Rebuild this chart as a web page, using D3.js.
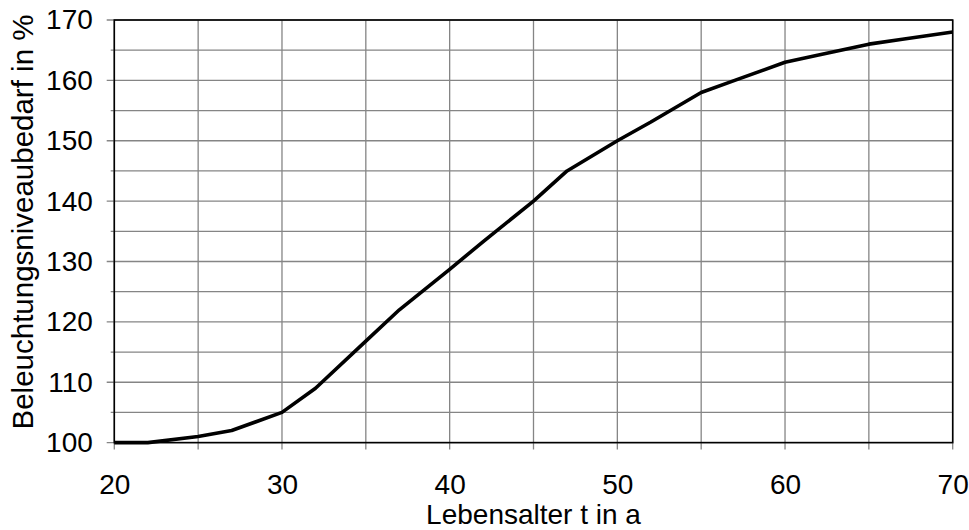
<!DOCTYPE html>
<html>
<head>
<meta charset="utf-8">
<script src="https://cdn.jsdelivr.net/npm/d3@7"></script>
<style>
  html, body { margin: 0; padding: 0; background: #fff; }
  svg { display: block; }
  text { font-family: "Liberation Sans", Arial, sans-serif; fill: #000; }
</style>
</head>
<body>
<svg id="chart" width="969" height="530"></svg>
<script>
// ---- data ----
const ages = [20, 22, 25, 27, 30, 32, 35, 37, 40, 42, 45, 47, 50, 52, 55, 57, 60, 62, 65, 67, 70];
const demand = [100, 100, 101, 102, 105, 109, 116.8, 122, 128.7, 133.3, 140, 145, 150, 153.1, 158, 160, 163, 164.2, 166, 166.8, 168];
const xTickLabels = [20, 30, 40, 50, 60, 70];
const xMinorTicks = [25, 35, 45, 55, 65];
const yTickLabels = [100, 110, 120, 130, 140, 150, 160, 170];
const yMinorTicks = [105, 115, 125, 135, 145, 155, 165];
const xTitle = "Lebensalter t in a";
const yTitle = "Beleuchtungsniveaubedarf in %";

// ---- layout ----
const svg = d3.select("#chart");
const x0 = 114.3, x1 = 952.7, yTop = 20, yBot = 442.6;
const x = d3.scaleLinear().domain([20, 70]).range([x0, x1]);
const y = d3.scaleLinear().domain([100, 170]).range([yBot, yTop]);
const gridColor = "#858585";
const fontSize = 28;

// vertical grid lines (with ticks extending below the axis)
svg.append("g").selectAll("line")
  .data(xTickLabels.concat(xMinorTicks))
  .join("line")
  .attr("x1", d => x(d)).attr("x2", d => x(d))
  .attr("y1", yTop).attr("y2", yBot + 7)
  .attr("stroke", gridColor).attr("stroke-width", 1.3);

// horizontal grid lines (major ticks extend farther left)
svg.append("g").selectAll("line")
  .data(yTickLabels.map(v => ({v, major: true})).concat(yMinorTicks.map(v => ({v, major: false}))))
  .join("line")
  .attr("x1", d => d.major ? x0 - 7.6 : x0 - 3.6).attr("x2", x1)
  .attr("y1", d => y(d.v)).attr("y2", d => y(d.v))
  .attr("stroke", gridColor).attr("stroke-width", 1.3);

// plot frame
svg.append("rect")
  .attr("x", x0).attr("y", yTop)
  .attr("width", x1 - x0).attr("height", yBot - yTop)
  .attr("fill", "none").attr("stroke", "#000").attr("stroke-width", 1.6);

// data line
const line = d3.line().x((d, i) => x(ages[i])).y(d => y(d));
svg.append("path")
  .datum(demand)
  .attr("d", line)
  .attr("fill", "none")
  .attr("stroke", "#000")
  .attr("stroke-width", 3.6)
  .attr("stroke-linejoin", "round");

// axes (labels only)
const xAxis = d3.axisBottom(x).tickValues(xTickLabels).tickSize(0).tickPadding(31.5).tickFormat(d3.format("d"));
const gx = svg.append("g").attr("transform", `translate(0,${yBot})`).call(xAxis);
gx.select(".domain").remove();
gx.selectAll("text").style("font-size", fontSize + "px").attr("fill", "#000")
  .style("font-family", '"Liberation Sans", Arial, sans-serif');

const yAxis = d3.axisLeft(y).tickValues(yTickLabels).tickSize(0).tickPadding(21.5).tickFormat(d3.format("d"));
const gy = svg.append("g").attr("transform", `translate(${x0},0)`).call(yAxis);
gy.select(".domain").remove();
gy.selectAll("text").style("font-size", fontSize + "px").attr("fill", "#000")
  .style("font-family", '"Liberation Sans", Arial, sans-serif');

// axis titles
svg.append("text")
  .attr("x", (x0 + x1) / 2).attr("y", 524)
  .attr("text-anchor", "middle")
  .style("font-size", fontSize + "px")
  .text(xTitle);

svg.append("text")
  .attr("transform", `translate(33,222) rotate(-90)`)
  .attr("text-anchor", "middle")
  .style("font-size", "29.5px")
  .text(yTitle);
</script>
</body>
</html>
